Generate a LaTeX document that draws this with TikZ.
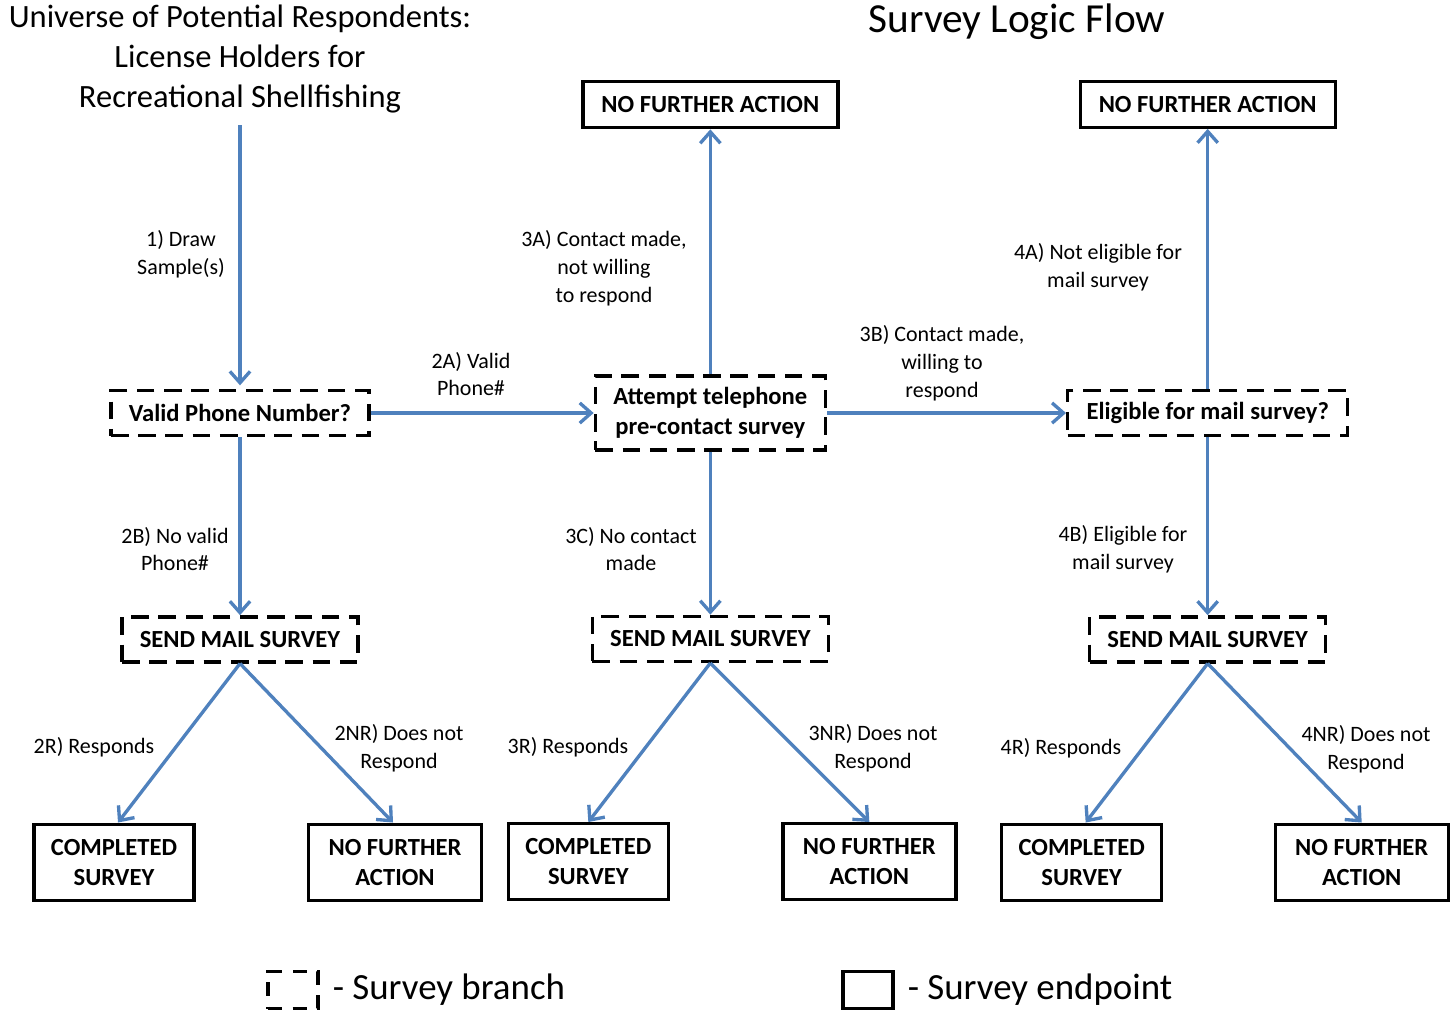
\documentclass[tikz,border=0pt]{standalone}
\usepackage{fontspec}
\setmainfont{Carlito}
\usepackage{tikz}
\usetikzlibrary{arrows.meta, positioning}
\definecolor{flowblue}{RGB}{79, 129, 189}

\begin{document}
\begin{tikzpicture}[
    branch/.style={rectangle, draw, line width=1.9pt, dash pattern=on 10pt off 5.5pt, minimum height=0.9cm, align=center, inner sep=2pt, font=\fontsize{14}{17}\selectfont\bfseries},
    endbox/.style={rectangle, draw, line width=1.9pt, minimum height=0.92cm, align=center, inner sep=2pt, font=\fontsize{14}{17}\selectfont\bfseries},
    arrow/.style={-{Straight Barb[length=6.5pt, width=11.5pt, line width=1.9pt]}, line width=1.9pt, draw=flowblue},
    lbl/.style={align=center, font=\fontsize{12.5}{15.8}\selectfont, inner sep=1pt}
]
    \useasboundingbox (0,0) rectangle (29,-20.22);

    % headings
    \node[align=center, font=\fontsize{18.5}{22.7}\selectfont] (universe) at (4.8,-1.18) {Universe of Potential Respondents:\\License Holders for\\Recreational Shellfishing};
    \node[font=\fontsize{23.5}{28}\selectfont] (title) at (20.34,-0.44) {Survey Logic Flow};
    \coordinate (start) at (4.8,-2.5);

    % branch row
    \node[branch, minimum width=5.16cm] (valid) at (4.8,-8.26) {Valid Phone Number?};
    \node[branch, minimum width=4.6cm, minimum height=1.48cm, right=4.46cm of valid] (attempt) {Attempt telephone\\pre-contact survey};
    \node[branch, minimum width=5.6cm, right=4.78cm of attempt] (eligible) {Eligible for mail survey?};

    % top endpoints
    \node[endbox, minimum width=5.1cm, above=4.9cm of attempt] (nfaA) {NO FURTHER ACTION};
    \node[endbox, minimum width=5.1cm, above=5.2cm of eligible] (nfaB) {NO FURTHER ACTION};

    % mail surveys
    \node[branch, minimum width=4.72cm, below=3.56cm of valid] (sendA) {SEND MAIL SURVEY};
    \node[branch, minimum width=4.72cm, below=3.26cm of attempt] (sendB) {SEND MAIL SURVEY};
    \node[branch, minimum width=4.72cm, below=3.56cm of eligible] (sendC) {SEND MAIL SURVEY};

    % bottom endpoints
    \node[endbox, minimum width=3.2cm, minimum height=1.52cm, below=3.18cm of sendA, xshift=-2.52cm] (doneA) {COMPLETED\\SURVEY};
    \node[endbox, minimum width=3.46cm, minimum height=1.52cm, below=3.18cm of sendA, xshift=3.1cm] (stopA) {NO FURTHER\\ACTION};
    \node[endbox, minimum width=3.2cm, minimum height=1.52cm, below=3.18cm of sendB, xshift=-2.44cm] (doneB) {COMPLETED\\SURVEY};
    \node[endbox, minimum width=3.46cm, minimum height=1.52cm, below=3.18cm of sendB, xshift=3.18cm] (stopB) {NO FURTHER\\ACTION};
    \node[endbox, minimum width=3.2cm, minimum height=1.52cm, below=3.18cm of sendC, xshift=-2.52cm] (doneC) {COMPLETED\\SURVEY};
    \node[endbox, minimum width=3.46cm, minimum height=1.52cm, below=3.18cm of sendC, xshift=3.08cm] (stopC) {NO FURTHER\\ACTION};

    % connectors
    \draw[arrow, shorten >=2pt] (start) -- (valid);
    \draw[arrow] (valid) -- (attempt);
    \draw[arrow] (attempt) -- (eligible);
    \draw[arrow] (attempt) -- (nfaA);
    \draw[arrow] (eligible) -- (nfaB);
    \draw[arrow] (valid) -- (sendA);
    \draw[arrow] (attempt) -- (sendB);
    \draw[arrow] (eligible) -- (sendC);
    \draw[arrow] (sendA.south) -- ([xshift=0.08cm]doneA.north);
    \draw[arrow] (sendA.south) -- ([xshift=-0.04cm]stopA.north);
    \draw[arrow] (sendB.south) -- (doneB.north);
    \draw[arrow] (sendB.south) -- (stopB.north);
    \draw[arrow] (sendC.south) -- ([xshift=0.08cm]doneC.north);
    \draw[arrow] (sendC.south) -- (stopC.north);

    % connector labels
    \node[lbl] (l1) at (3.62,-5.08) {1) Draw\\Sample(s)};
    \node[lbl] (l2a) at (9.42,-7.48) {2A) Valid\\Phone\#};
    \node[lbl] (l2b) at (3.5,-10.98) {2B) No valid\\Phone\#};
    \node[lbl] (l3a) at (12.08,-5.36) {3A) Contact made,\\not willing\\to respond};
    \node[lbl] (l3b) at (18.84,-7.26) {3B) Contact made,\\willing to\\respond};
    \node[lbl] (l3c) at (12.62,-10.98) {3C) No contact\\made};
    \node[lbl] (l4a) at (21.96,-5.34) {4A) Not eligible for\\mail survey};
    \node[lbl] (l4b) at (22.46,-10.98) {4B) Eligible for\\mail survey};
    \node[lbl] (l2r) at (1.88,-14.94) {2R) Responds};
    \node[lbl] (l2nr) at (7.98,-14.96) {2NR) Does not\\Respond};
    \node[lbl] (l3r) at (11.36,-14.94) {3R) Responds};
    \node[lbl] (l3nr) at (17.46,-14.96) {3NR) Does not\\Respond};
    \node[lbl] (l4r) at (21.22,-14.96) {4R) Responds};
    \node[lbl] (l4nr) at (27.32,-14.98) {4NR) Does not\\Respond};

    % legend
    \node[draw, line width=1.9pt, dash pattern=on 8pt off 6pt, minimum width=1.0cm, minimum height=0.74cm, inner sep=0pt] (keyA) at (5.86,-19.8) {};
    \node[right=0.22cm of keyA, font=\fontsize{21}{25}\selectfont, inner sep=1pt] (keyAtext) {- Survey branch};
    \node[draw, line width=1.9pt, minimum width=1.0cm, minimum height=0.74cm, inner sep=0pt] (keyB) at (17.36,-19.8) {};
    \node[right=0.22cm of keyB, font=\fontsize{21}{25}\selectfont, inner sep=1pt] (keyBtext) {- Survey endpoint};
\end{tikzpicture}
\end{document}
